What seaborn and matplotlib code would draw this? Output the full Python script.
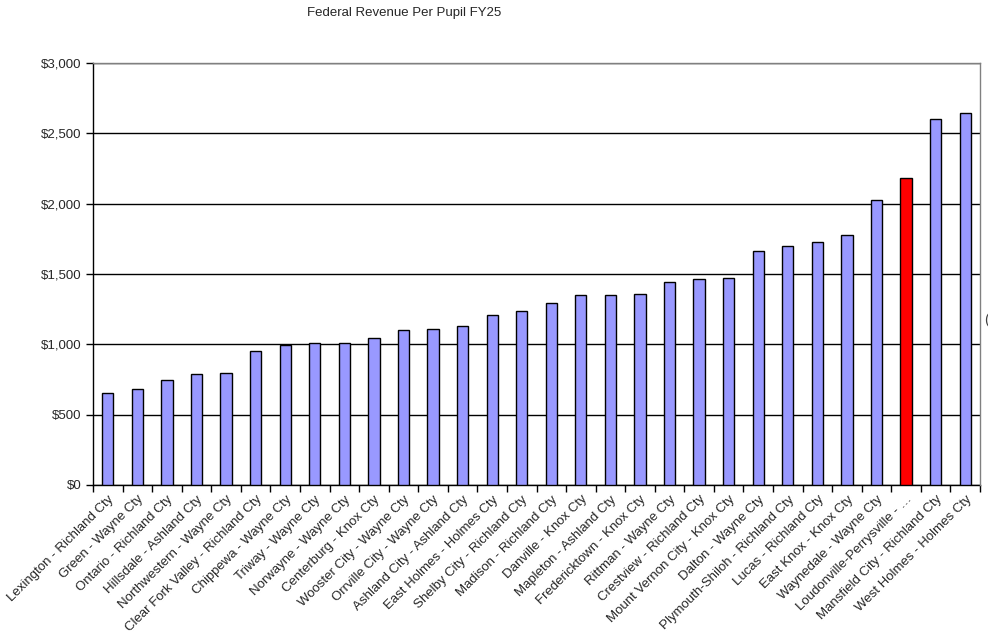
import numpy as np
import seaborn as sns
import pandas as pd
import matplotlib.pyplot as plt
from matplotlib.ticker import FuncFormatter

sns.set_style("white")
plt.rcParams['font.family'] = ['Liberation Sans', 'DejaVu Sans']

districts = ["Lexington - Richland Cty", "Green - Wayne Cty", "Ontario - Richland Cty",
             "Hillsdale - Ashland Cty", "Northwestern - Wayne Cty", "Clear Fork Valley - Richland Cty",
             "Chippewa - Wayne Cty", "Triway - Wayne Cty", "Norwayne - Wayne Cty",
             "Centerburg - Knox Cty", "Wooster City - Wayne Cty", "Orrville City - Wayne Cty",
             "Ashland City - Ashland Cty", "East Holmes - Holmes Cty", "Shelby City - Richland Cty",
             "Madison - Richland Cty", "Danville - Knox Cty", "Mapleton - Ashland Cty",
             "Fredericktown - Knox Cty", "Rittman - Wayne Cty", "Crestview - Richland Cty",
             "Mount Vernon City - Knox Cty", "Dalton - Wayne Cty", "Plymouth-Shiloh - Richland Cty",
             "Lucas - Richland Cty", "East Knox - Knox Cty", "Waynedale - Wayne Cty",
             "Loudonville-Perrysville - \u2026", "Mansfield City - Richland Cty", "West Holmes - Holmes Cty"]
revenue = [654, 682, 746, 789, 796, 953, 995, 1009, 1009, 1045, 1102, 1109, 1130, 1208, 1237,
           1294, 1351, 1351, 1358, 1443, 1464, 1472, 1663, 1699, 1727, 1777, 2026, 2182, 2602, 2644]
highlight = "Loudonville-Perrysville - \u2026"

df = pd.DataFrame({"district": districts, "revenue": revenue})
pal = {d: ("#FF0000" if d == highlight else "#9999FF") for d in districts}

fig = plt.figure(figsize=(9.88, 6.43), dpi=100)
ax = fig.add_axes([93/988, 1-485/643, (980-93)/988, (485-63)/643])

sns.barplot(data=df, x="district", y="revenue", hue="district", palette=pal, legend=False,
            width=0.38, edgecolor="black", linewidth=1, saturation=1, ax=ax, zorder=3)

ax.set_ylim(0, 3000)
ax.set_xlim(-0.5, len(districts) - 0.5)
ax.set_yticks(np.arange(0, 3001, 500))
ax.yaxis.set_major_formatter(FuncFormatter(lambda v, p: "${:,.0f}".format(v)))
ax.yaxis.grid(True, color="black", linewidth=1, zorder=0)
ax.set_axisbelow(True)

ax.set_xticks(np.arange(len(districts)))
ax.set_xticklabels(districts, rotation=45, ha="right", rotation_mode="anchor", fontsize=9.5)
ax.set_xticks(np.arange(-0.5, len(districts)), minor=True)
ax.tick_params(axis="x", which="major", length=0, pad=6)
ax.tick_params(axis="x", which="minor", length=5, width=1, color="black", direction="out", bottom=True)
ax.tick_params(axis="y", length=5, width=1, color="black", direction="out", left=True, labelsize=9.5, pad=3)
ax.set_xlabel("")
ax.set_ylabel("")

for s in ["left", "bottom"]:
    ax.spines[s].set_color("black")
    ax.spines[s].set_linewidth(1)
for s in ["top", "right"]:
    ax.spines[s].set_color("#808080")
    ax.spines[s].set_linewidth(1)
    ax.spines[s].set_zorder(4)

fig.text(404/988, 1-13/643, "Federal Revenue Per Pupil FY25", ha="center", va="center", fontsize=9.5)
# clipped legend remnant at the right edge
fig.text(984/988, 1-320/643, "(", ha="left", va="center", fontsize=10, color="#404040")

fig.savefig("out.png", dpi=100)
